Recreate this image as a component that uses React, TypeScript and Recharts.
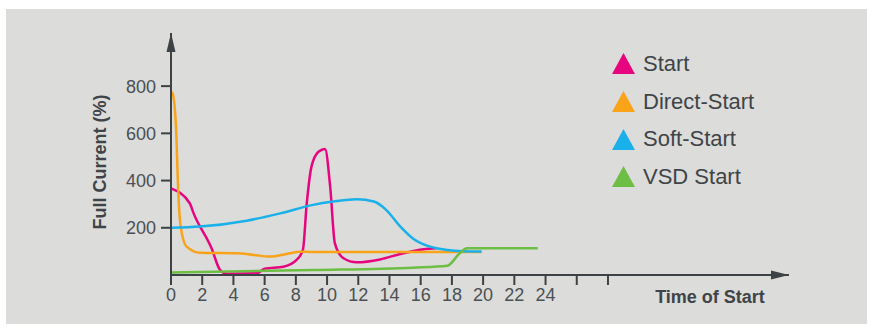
import { ComposedChart, Line, XAxis, YAxis, Legend, ReferenceDot } from 'recharts'

const startTime = [0, 1.2, 1.45, 2.6, 3.15, 3.6, 5.5, 6.0, 7.2, 8.05, 8.45, 8.7, 9.0, 9.45, 9.87, 10.2, 10.5, 11.05, 11.9, 13.4, 14.7, 16.2, 17.0]
const startValues = [367, 304, 261, 113, 21, 5, 7, 27, 35, 64, 106, 304, 459, 522, 534, 374, 134, 71, 54, 66, 89, 109, 113]

const directTime = [0, 0.1, 0.32, 0.47, 0.62, 1.0, 1.86, 4.2, 5.3, 6.35, 7.4, 8.3, 9.1, 19.9]
const directValues = [777, 770, 628, 346, 205, 120, 94, 92, 85, 78, 89, 99, 97, 97]

const softTime = [0, 1.86, 4.85, 7.0, 9.1, 10.4, 11.9, 13.0, 13.8, 14.7, 15.5, 16.6, 17.7, 18.7, 19.9]
const softValues = [200, 205, 230, 261, 297, 311, 321, 311, 275, 205, 155, 120, 106, 101, 100]

const vsdTime = [0, 9.1, 15.5, 17.7, 18.5, 18.95, 23.5]
const vsdValues = [11, 21, 31, 39, 92, 113, 113]

const xTicks = [0, 2, 4, 6, 8, 10, 12, 14, 16, 18, 20, 22, 24, 26, 28]
const yTicks = [200, 400, 600, 800]
const xMax = 39.6
const yMax = 1025

const toData = (t: number[], v: number[]) => t.map((x, i) => ({ t: x, v: v[i] }))

const series = [
  { name: 'Start', color: '#e6057e', data: toData(startTime, startValues) },
  { name: 'Direct-Start', color: '#f9a31b', data: toData(directTime, directValues) },
  { name: 'Soft-Start', color: '#1ab1ea', data: toData(softTime, softValues) },
  { name: 'VSD Start', color: '#6dbe45', data: toData(vsdTime, vsdValues) },
]

const axisColor = '#3c4245'
const textColor = '#4a5053'
const font = '"Liberation Sans", Arial, sans-serif'

const LegendContent = () => (
  <div style={{ fontFamily: font }}>
    {series.map((s) => (
      <div key={s.name} style={{ height: 37.7, display: 'flex', alignItems: 'center' }}>
        <svg width={23} height={21} style={{ marginRight: 8 }}>
          <polygon points="11.5,0 23,21 0,21" fill={s.color} />
        </svg>
        <span style={{ fontSize: 22, color: '#3e4447' }}>{s.name}</span>
      </div>
    ))}
  </div>
)

export default function App() {
  return (
    <div style={{ position: 'fixed', left: 0, top: 0, width: 875, height: 330, background: '#fff' }}>
      <div style={{ position: 'absolute', left: 6, top: 9, width: 861, height: 315, background: '#dcdcda' }} />
      <div style={{ position: 'absolute', left: 0, top: 0, fontFamily: font }}>
        <ComposedChart width={875} height={330} margin={{ top: 33, right: 86, bottom: 25, left: 91 }}>
          <XAxis
            type="number"
            dataKey="t"
            domain={[0, xMax]}
            ticks={xTicks}
            allowDataOverflow
            height={30}
            tickFormatter={(v) => (v <= 24 ? String(v) : '')}
            tick={{ fill: textColor, fontSize: 18 }}
            tickSize={10}
            tickMargin={3}
            axisLine={{ stroke: axisColor, strokeWidth: 2 }}
            tickLine={{ stroke: axisColor, strokeWidth: 2 }}
            label={{
              content: (p: any) => (
                <text
                  x={p.viewBox.x + 539}
                  y={p.viewBox.y + 22}
                  textAnchor="middle"
                  dominantBaseline="central"
                  fontSize={18}
                  fontWeight="bold"
                  fill="#3e4447"
                >
                  Time of Start
                </text>
              ),
            }}
          />
          <YAxis
            type="number"
            domain={[0, yMax]}
            ticks={yTicks}
            allowDataOverflow
            width={80}
            tick={{ fill: textColor, fontSize: 18 }}
            tickSize={10}
            tickMargin={5}
            axisLine={{ stroke: axisColor, strokeWidth: 2 }}
            tickLine={{ stroke: axisColor, strokeWidth: 2 }}
            label={{
              content: (p: any) => {
                const x = p.viewBox.x + 9
                const y = p.viewBox.y + p.viewBox.height / 2 + 8
                return (
                  <text
                    x={x}
                    y={y}
                    transform={`rotate(-90, ${x}, ${y})`}
                    textAnchor="middle"
                    dominantBaseline="central"
                    fontSize={18}
                    fontWeight="bold"
                    fill="#3e4447"
                  >
                    Full Current (%)
                  </text>
                )
              },
            }}
          />
          {series.map((s) => (
            <Line
              key={s.name}
              data={s.data}
              dataKey="v"
              name={s.name}
              type="monotone"
              stroke={s.color}
              strokeWidth={2.5}
              dot={false}
              isAnimationActive={false}
            />
          ))}
          <ReferenceDot
            x={xMax}
            y={0}
            ifOverflow="visible"
            shape={(p: any) => (
              <polygon points={`${p.cx},${p.cy} ${p.cx - 18},${p.cy - 4.5} ${p.cx - 18},${p.cy + 4.5}`} fill={axisColor} />
            )}
          />
          <ReferenceDot
            x={0}
            y={yMax}
            ifOverflow="visible"
            shape={(p: any) => (
              <polygon points={`${p.cx},${p.cy} ${p.cx - 4.5},${p.cy + 19} ${p.cx + 4.5},${p.cy + 19}`} fill={axisColor} />
            )}
          />
          <Legend
            layout="vertical"
            align="center"
            verticalAlign="middle"
            content={<LegendContent />}
            wrapperStyle={{ left: 612, top: 45, width: 220 }}
          />
        </ComposedChart>
      </div>
    </div>
  )
}
